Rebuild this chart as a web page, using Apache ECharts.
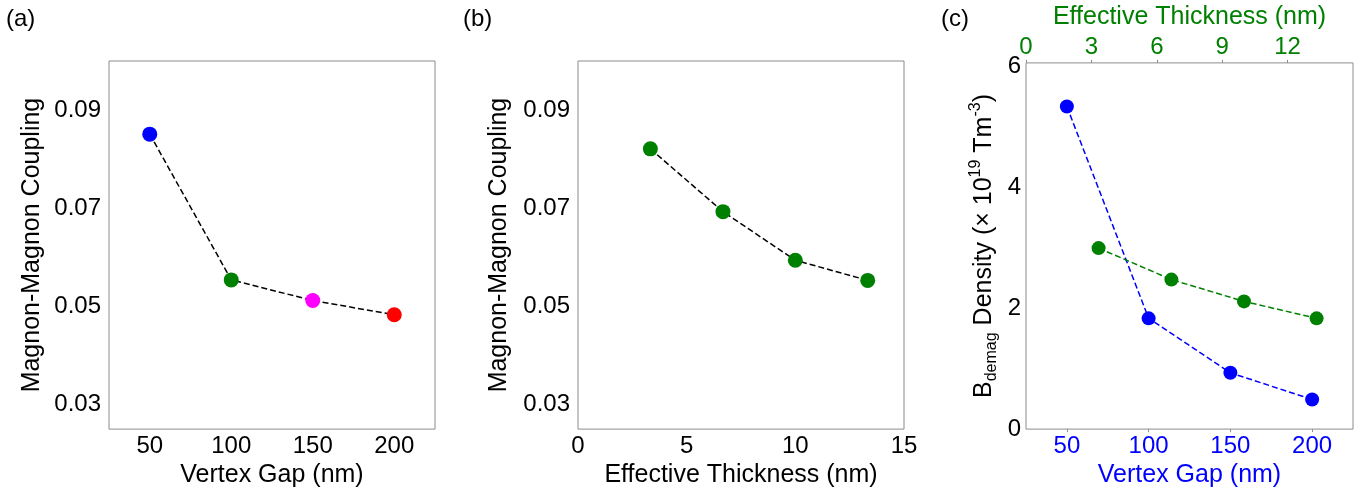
<!DOCTYPE html>
<html>
<head>
<meta charset="utf-8">
<script src="https://cdn.jsdelivr.net/npm/echarts@6/dist/echarts.min.js"></script>
<style>
  html, body { margin: 0; padding: 0; background: #fff; }
  #chart { width: 1364px; height: 493px; }
</style>
</head>
<body>
<div id="chart"></div>
<script>
// Vertex gap sweep (nm) and the coupling measured at each gap
const gapNm = [50, 100, 150, 200];
const couplingByGap = [0.0851, 0.0554, 0.0512, 0.0483];
const gapColors = ['#0000ff', '#008000', '#ff00ff', '#ff0000'];

// Effective thickness (nm) and the coupling against it
const thicknessNm = [3.33, 6.67, 10, 13.33];
const couplingByThickness = [0.0821, 0.0693, 0.0594, 0.0553];

// Demagnetising field density (x 10^19 T m^-3)
const demagByGap = [5.33, 1.83, 0.93, 0.49];
const demagByThickness = [2.99, 2.47, 2.11, 1.83];

// Tick labels
const gapTicks = [50, 100, 150, 200];
const couplingTicks = [0.03, 0.05, 0.07, 0.09];
const panelLabels = ['(a)', '(b)', '(c)'];

const FONT = '"Liberation Sans", Arial, sans-serif';
const BORDER = '#8c8c8c';
const BLUE = '#0000ff';
const GREEN = '#008000';

const tickText = { fontFamily: FONT, fontSize: 24, color: '#000', lineHeight: 24 };
const titleText = { fontFamily: FONT, fontSize: 25, color: '#000', lineHeight: 25 };

function frame(left, width) {
  return {
    left: left, top: 61, width: width, height: 370,
    show: true, borderColor: BORDER, borderWidth: 1,
    backgroundColor: 'transparent', containLabel: false
  };
}

function valueAxis(extra) {
  return Object.assign({
    type: 'value',
    axisLine: { show: false },
    splitLine: { show: false },
    axisTick: { show: false },
    nameLocation: 'middle',
    nameTextStyle: Object.assign({}, titleText)
  }, extra);
}

const dashed = (color) => ({ color: color, width: 1.5, type: [6, 3] });

const chart = echarts.init(document.getElementById('chart'), null, { renderer: 'canvas' });

chart.setOption({
  animation: false,
  backgroundColor: '#fff',
  textStyle: { fontFamily: FONT },
  grid: [frame(109, 326), frame(578, 326), frame(1026, 327)],
  xAxis: [
    valueAxis({
      gridIndex: 0, min: 25, max: 225,
      name: 'Vertex Gap (nm)', nameGap: 32,
      axisLabel: Object.assign({ margin: 5, customValues: gapTicks }, tickText)
    }),
    valueAxis({
      gridIndex: 1, min: 0, max: 15, interval: 5,
      name: 'Effective Thickness (nm)', nameGap: 32,
      axisLabel: Object.assign({ margin: 5 }, tickText)
    }),
    valueAxis({
      gridIndex: 2, position: 'bottom', min: 25, max: 225,
      name: 'Vertex Gap (nm)', nameGap: 32,
      nameTextStyle: Object.assign({}, titleText, { color: BLUE }),
      axisTick: { show: true, inside: false, length: 3, customValues: gapTicks, lineStyle: { color: BORDER } },
      axisLabel: Object.assign({ margin: 5, customValues: gapTicks }, tickText, { color: BLUE })
    }),
    valueAxis({
      gridIndex: 2, position: 'top', min: 0, max: 15, interval: 3,
      name: 'Effective Thickness (nm)', nameGap: 31,
      nameTextStyle: Object.assign({}, titleText, { color: GREEN }),
      axisTick: { show: true, inside: false, length: 3, lineStyle: { color: BORDER } },
      axisLabel: Object.assign({ margin: 4, showMaxLabel: false }, tickText, { color: GREEN })
    })
  ],
  yAxis: [
    valueAxis({
      gridIndex: 0, min: 0.025, max: 0.1,
      name: 'Magnon-Magnon Coupling', nameGap: 64,
      axisLabel: Object.assign({ margin: 8, customValues: couplingTicks, formatter: v => v.toFixed(2) }, tickText)
    }),
    valueAxis({
      gridIndex: 1, min: 0.025, max: 0.1,
      name: 'Magnon-Magnon Coupling', nameGap: 66,
      axisLabel: Object.assign({ margin: 8, customValues: couplingTicks, formatter: v => v.toFixed(2) }, tickText)
    }),
    valueAxis({
      gridIndex: 2, min: 0, max: 6.05, interval: 2,
      name: '{t|B}{sub|demag}{t| Density (× 10}{sup|19}{t| Tm}{sup|-3}{t|)}',
      nameGap: 26,
      nameTextStyle: {
        fontFamily: FONT, color: '#000',
        rich: {
          t: { fontFamily: FONT, fontSize: 25, lineHeight: 32, color: '#000' },
          sub: { fontFamily: FONT, fontSize: 16, lineHeight: 16, verticalAlign: 'bottom', color: '#000' },
          sup: { fontFamily: FONT, fontSize: 16, lineHeight: 18, verticalAlign: 'top', color: '#000' }
        }
      },
      axisLabel: Object.assign({ margin: 5 }, tickText)
    })
  ],
  series: [
    {
      type: 'line', xAxisIndex: 0, yAxisIndex: 0,
      symbol: 'circle', symbolSize: 15,
      lineStyle: dashed('#000'),
      data: gapNm.map((g, i) => ({ value: [g, couplingByGap[i]], itemStyle: { color: gapColors[i] } }))
    },
    {
      type: 'line', xAxisIndex: 1, yAxisIndex: 1,
      symbol: 'circle', symbolSize: 15,
      lineStyle: dashed('#000'),
      itemStyle: { color: GREEN },
      data: thicknessNm.map((t, i) => [t, couplingByThickness[i]])
    },
    {
      type: 'line', xAxisIndex: 2, yAxisIndex: 2,
      symbol: 'circle', symbolSize: 14,
      lineStyle: dashed(BLUE),
      itemStyle: { color: BLUE },
      data: gapNm.map((g, i) => [g, demagByGap[i]])
    },
    {
      type: 'line', xAxisIndex: 3, yAxisIndex: 2,
      symbol: 'circle', symbolSize: 14,
      lineStyle: dashed(GREEN),
      itemStyle: { color: GREEN },
      data: thicknessNm.map((t, i) => [t, demagByThickness[i]])
    }
  ],
  graphic: panelLabels.map((txt, i) => ({
    type: 'text',
    left: [6, 463, 941][i],
    top: 7,
    style: { text: txt, fontFamily: FONT, fontSize: 24, fill: '#000' }
  }))
});
</script>
</body>
</html>
